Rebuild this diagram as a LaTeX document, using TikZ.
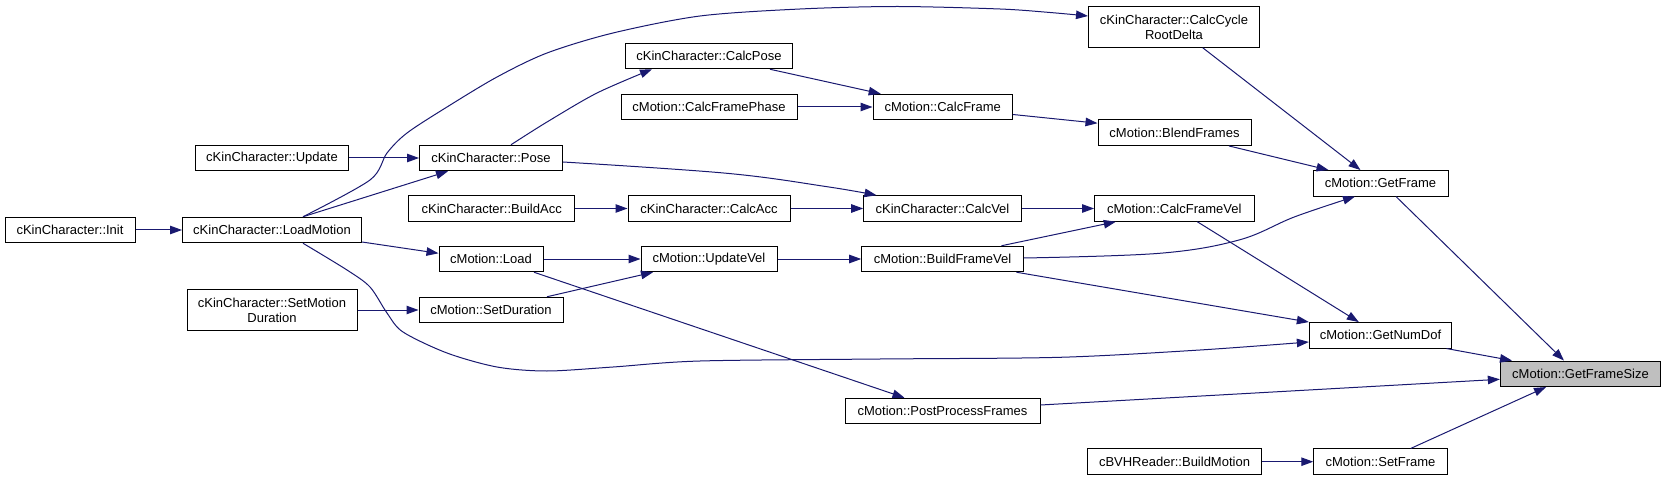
\documentclass[tikz,border=0pt]{standalone}
\usepackage{fontspec}
\setmainfont{Liberation Sans}
\usetikzlibrary{arrows.meta,calc}
\definecolor{edgeblue}{HTML}{191970}
\definecolor{hlgray}{HTML}{BFBFBF}
\begin{document}
\begin{tikzpicture}[x=1pt,y=-1pt,
  box/.style={draw=black, line width=1pt, fill=white, inner sep=0pt,
    minimum height=25.5pt, font=\fontsize{13}{15}\selectfont, align=center},
  tall/.style={minimum height=40.5pt},
  edge/.style={draw=edgeblue, line width=1pt, -{Triangle[length=12pt,width=8.5pt]}}]
\useasboundingbox (0,0) rectangle (1665,481);
% nodes
\node[box, minimum width=130pt]   (init)   at (70,230)      {cKinCharacter::Init};
\node[box, minimum width=179pt]   (lm)     at (272,230)     {cKinCharacter::LoadMotion};
\node[box, minimum width=153pt]   (upd)    at (272,158)     {cKinCharacter::Update};
\node[box, minimum width=170pt, tall] (smd) at (272,310)    {cKinCharacter::SetMotion\\Duration};
\node[box, minimum width=143pt]   (pose)   at (491,158)     {cKinCharacter::Pose};
\node[box, minimum width=165.5pt] (bacc)   at (491.7,208.5) {cKinCharacter::BuildAcc};
\node[box, minimum width=104pt]   (load)   at (491,259)     {cMotion::Load};
\node[box, minimum width=144pt]   (sdur)   at (491,310)     {cMotion::SetDuration};
\node[box, minimum width=167.5pt] (cpose)  at (709,56)      {cKinCharacter::CalcPose};
\node[box, minimum width=176pt]   (cfp)    at (709,107)     {cMotion::CalcFramePhase};
\node[box, minimum width=162pt]   (cacc)   at (709,208.5)   {cKinCharacter::CalcAcc};
\node[box, minimum width=136pt]   (uvel)   at (709,259)     {cMotion::UpdateVel};
\node[box, minimum width=195pt]   (ppf)    at (942.5,411)   {cMotion::PostProcessFrames};
\node[box, minimum width=139.4pt] (cframe) at (942.7,107)   {cMotion::CalcFrame};
\node[box, minimum width=157.6pt] (cvel)   at (942.5,208.5) {cKinCharacter::CalcVel};
\node[box, minimum width=161.6pt] (bfv)    at (942.5,259)   {cMotion::BuildFrameVel};
\node[box, minimum width=171pt, tall] (ccrd) at (1174,27)   {cKinCharacter::CalcCycle\\RootDelta};
\node[box, minimum width=153pt]   (blend)  at (1174.5,132.7){cMotion::BlendFrames};
\node[box, minimum width=159.4pt] (cfv)    at (1174.3,208.5){cMotion::CalcFrameVel};
\node[box, minimum width=173.4pt] (bvh)    at (1174.5,461.7){cBVHReader::BuildMotion};
\node[box, minimum width=135pt]   (gf)     at (1380.5,183.3){cMotion::GetFrame};
\node[box, minimum width=142.3pt] (gnd)    at (1380.5,335.3){cMotion::GetNumDof};
\node[box, minimum width=133.5pt] (sf)     at (1380.5,461.7){cMotion::SetFrame};
\node[box, minimum width=160.3pt, fill=hlgray] (gfs) at (1580.5,373.8){cMotion::GetFrameSize};
% helper coordinates for curved connectors
\coordinate (lmA) at ($(lm.north)+(31,0)$);
\coordinate (ccrdA) at ($(ccrd.west)+(0,-11)$);
\coordinate (lmB) at ($(lm.south)+(31,0)$);
\coordinate (gndB) at ($(gnd.west)+(0,6.7)$);
\coordinate (bfvC) at ($(bfv.east)+(0,-1)$);
\coordinate (gfC) at ($(gf.south)+(-25.5,0)$);
\coordinate (poseD) at ($(pose.north)+(20,0)$);
\coordinate (cposeD) at ($(cpose.south)+(-57,0)$);
\coordinate (poseE) at ($(pose.east)+(0,4)$);
\coordinate (cvelE) at ($(cvel.north)+(-66,0)$);
% edges
\draw[edge] (init.east) -- (lm.west);
\draw[edge] (upd.east) -- (pose.west);
\draw[edge] ($(lm.north)+(31,0)$) -- ($(pose.south)+(-43,0)$);
\draw[edge] plot[smooth, tension=0.5] coordinates {(lmA) (370,180) (387,153) (407,133) (447,107) (497,77) (547,53) (613,33) (700,16) (800,9) (897,6.5) (1000,9) (1050,12.5) (ccrdA)};
\draw[edge] ($(lm.east)+(0,12)$) -- ($(load.west)+(0,-5.7)$);
\draw[edge] plot[smooth, tension=0.5] coordinates {(lmB) (347,270) (370,287) (387,313) (403,332) (447,353) (497,367) (547,371) (613,367) (700,361) (880,359) (1060,357.3) (1200,350) (gndB)};
\draw[edge] (smd.east) -- (sdur.west);
\draw[edge] plot[smooth, tension=0.5] coordinates {(poseD) (547,122) (597,93) (cposeD)};
\draw[edge] plot[smooth, tension=0.6] coordinates {(poseE) (727,173.3) (827,186.7) (cvelE)};
\draw[edge] (bacc.east) -- (cacc.west);
\draw[edge] (cacc.east) -- (cvel.west);
\draw[edge] (load.east) -- (uvel.west);
\draw[edge] ($(load.south)+(43,0)$) -- ($(ppf.north)+(-38,0)$);
\draw[edge] ($(sdur.north)+(56,0)$) -- ($(uvel.south)+(-56,0)$);
\draw[edge] ($(cpose.south)+(61,0)$) -- ($(cframe.north)+(-62,0)$);
\draw[edge] (cfp.east) -- (cframe.west);
\draw[edge] ($(cframe.east)+(0,7.5)$) -- ($(blend.west)+(0,-9.5)$);
\draw[edge] (cvel.east) -- (cfv.west);
\draw[edge] (uvel.east) -- (bfv.west);
\draw[edge] ($(bfv.north)+(59,0)$) -- ($(cfv.south)+(-58.5,0)$);
\draw[edge] plot[smooth, tension=0.6] coordinates {(bfvC) (1159.6,253.3) (1239,240) (1295,216.7) (gfC)};
\draw[edge] ($(bfv.south)+(74,0)$) -- (gnd.north west);
\draw[edge] ($(ccrd.south)+(28.7,0)$) -- ($(gf.north)+(-20,0)$);
\draw[edge] ($(blend.south)+(54.5,0)$) -- ($(gf.north)+(-52,0)$);
\draw[edge] ($(cfv.south)+(23,0)$) -- ($(gnd.north)+(-21.7,0)$);
\draw[edge] ($(gf.south)+(15.5,0)$) -- ($(gfs.north)+(-16.5,0)$);
\draw[edge] ($(gnd.south)+(66,0)$) -- ($(gfs.north)+(-68.5,0)$);
\draw[edge] ($(ppf.east)+(0,-6)$) -- ($(gfs.west)+(0,5.5)$);
\draw[edge] (bvh.east) -- (sf.west);
\draw[edge] ($(sf.north)+(30.2,0)$) -- ($(gfs.south)+(-34.5,0)$);
\end{tikzpicture}
\end{document}
